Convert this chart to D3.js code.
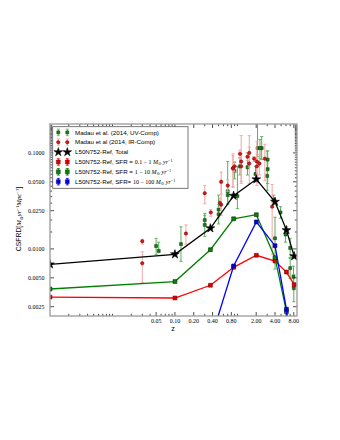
<!DOCTYPE html>
<html><head><meta charset="utf-8">
<script src="https://cdn.jsdelivr.net/npm/d3@7"></script>
<style>body{margin:0;background:#fff} svg{display:block}</style>
</head><body>
<svg id="c" width="340" height="440"></svg>
<script>
// ---- model (L50N752-Ref) ----
const zModel = [0.001, 0.1, 0.37, 0.87, 2.01, 4.0, 6.1, 8.1];
const sfrdTotal = [0.00691, 0.00879, 0.0164, 0.0358, 0.0531, 0.0310, 0.0157, 0.0084];
const sfrd01to1 = [0.00315, 0.00308, 0.00418, 0.00643, 0.00858, 0.00748, 0.00574, 0.00424];
const sfrd1to10 = [0.00382, 0.00457, 0.00981, 0.0206, 0.0227, 0.0081, 0.00222, 0.0008];
const sfrd10to100 = [null, null, 0.0011, 0.00664, 0.0191, 0.0108, 0.00235, 0.0002];

// ---- Madau & Dickinson (2014) compilation, log10 CSFRD and dex errors ----
const uvZ   = [0.055, 0.3, 0.5, 0.7, 1.0, 0.05, 0.125, 0.3, 0.5, 0.7, 0.9, 1.1, 1.45, 2.1, 3.0, 4.0, 1.95, 2.45, 3.05, 2.3, 3.05, 3.8, 4.9, 5.9, 7.0, 7.9, 7.0, 8.0];
const uvLog = [-2.02, -1.70, -1.59, -1.40, -1.45, -1.97, -1.95, -1.75, -1.64, -1.44, -1.19, -1.14, -1.15, -0.95, -1.24, -1.89, -1.22, -0.95, -1.07, -0.95, -1.17, -1.49, -1.62, -1.85, -1.99, -2.29, -2.20, -2.41];
const uvUp  = [0.09, 0.05, 0.15, 0.31, 0.31, 0.08, 0.18, 0.12, 0.10, 0.10, 0.09, 0.09, 0.15, 0.49, 0.26, 0.22, 0.08, 0.12, 0.09, 0.09, 0.11, 0.05, 0.06, 0.08, 0.10, 0.11, 0.10, 0.14];
const uvDn  = [0.02, 0.05, 0.08, 0.13, 0.13, 0.09, 0.18, 0.12, 0.10, 0.10, 0.08, 0.09, 0.08, 0.09, 0.15, 0.32, 0.08, 0.12, 0.09, 0.11, 0.15, 0.05, 0.06, 0.08, 0.10, 0.11, 0.11, 0.14];

const irZ   = [0.03, 0.03, 0.55, 0.85, 1.15, 1.55, 2.05, 0.3, 0.55, 0.85, 1.15, 1.55, 2.05, 0.15, 0.375, 0.525, 0.7, 0.9, 1.1, 1.45, 1.85, 2.25, 2.75, 3.6];
const irLog = [-1.92, -2.15, -1.54, -1.16, -1.09, -1.11, -1.09, -1.42, -1.30, -1.16, -1.14, -1.00, -1.14, -1.84, -1.62, -1.52, -1.34, -1.14, -1.01, -1.04, -1.06, -1.11, -1.06, -1.56];
const irUp  = [0.02, 0.12, 0.22, 0.15, 0.27, 0.17, 0.21, 0.08, 0.10, 0.13, 0.13, 0.18, 0.13, 0.09, 0.03, 0.05, 0.06, 0.05, 0.04, 0.04, 0.02, 0.09, 0.15, 0.23];
const irDn  = [0.03, 0.20, 0.11, 0.19, 0.21, 0.21, 0.25, 0.11, 0.13, 0.20, 0.18, 0.15, 0.10, 0.11, 0.04, 0.05, 0.06, 0.06, 0.05, 0.04, 0.03, 0.12, 0.23, 0.50];

// ---- ticks ----
const xTicks = [0.05, 0.1, 0.2, 0.4, 0.8, 2, 4, 8];
const xTickLabels = ["0.05", "0.10", "0.20", "0.40", "0.80", "2.00", "4.00", "8.00"];
const yTicks = [0.0025, 0.005, 0.01, 0.025, 0.05, 0.1];
const yTickLabels = ["0.0025", "0.0050", "0.0100", "0.0250", "0.0500", "0.1000"];

const legendLabels = [
  {t: "Madau et al. (2014, UV-Comp)"},
  {t: "Madau et al (2014, IR-Comp)"},
  {t: "L50N752-Ref, Total"},
  {t: "L50N752-Ref, SFR = ", m: "0.1 \u2212 1 "},
  {t: "L50N752-Ref, SFR = ", m: "1 \u2212 10 "},
  {t: "L50N752-Ref, SFR= ", m: "10 \u2212 100 "}
];

const svg = d3.select('#c');
const L = 50, R = 297, T = 124, B = 316;
const x = d3.scaleLog().domain([0.001, 9]).range([L, R]);
const y = d3.scaleLog().domain([0.002, 0.2]).range([B, T]);

svg.append('defs').append('clipPath').attr('id', 'clip')
  .append('rect').attr('x', L).attr('y', T).attr('width', R - L).attr('height', B - T);

const plot = svg.append('g').attr('clip-path', 'url(#clip)');

const sans = "'Liberation Sans', Arial, sans-serif";
const serif = "'Liberation Serif', 'DejaVu Serif', serif";

// observational data
function drawObs(zs, lg, up, dn, errCol, fill, edge, shape) {
  const g = plot.append('g');
  zs.forEach((z, i) => {
    const xc = x(z);
    const y0 = y(Math.pow(10, lg[i] + up[i]));
    const y1 = y(Math.pow(10, lg[i] - dn[i]));
    g.append('line').attr('x1', xc).attr('x2', xc).attr('y1', y0).attr('y2', y1)
      .attr('stroke', errCol).attr('stroke-width', 1);
    [y0, y1].forEach(yy => g.append('line').attr('x1', xc - 1.6).attr('x2', xc + 1.6)
      .attr('y1', yy).attr('y2', yy).attr('stroke', errCol).attr('stroke-width', 0.9));
  });
  zs.forEach((z, i) => {
    g.append('path').attr('d', d3.symbol().type(shape).size(9)())
      .attr('transform', `translate(${x(z)},${y(Math.pow(10, lg[i]))})`)
      .attr('fill', fill).attr('stroke', edge).attr('stroke-width', 0.5);
  });
}
drawObs(uvZ, uvLog, uvUp, uvDn, '#5cae5c', '#1b7a1b', '#0b3d0b', d3.symbolSquare);
drawObs(irZ, irLog, irUp, irDn, '#f4a3a3', '#d01818', '#7a0000', d3.symbolCircle);

// model lines
function drawModel(vals, col, shape, fill, edge, size) {
  const pts = zModel.map((z, i) => [z, vals[i]]).filter(d => d[1] != null);
  const line = d3.line().x(d => x(d[0])).y(d => y(d[1]));
  plot.append('path').attr('d', line(pts)).attr('fill', 'none')
    .attr('stroke', col).attr('stroke-width', 1.3);
  pts.forEach(d => plot.append('path').attr('d', d3.symbol().type(shape).size(size)())
    .attr('transform', `translate(${x(d[0])},${y(d[1])})`)
    .attr('fill', fill).attr('stroke', edge).attr('stroke-width', 0.6));
}
drawModel(sfrdTotal, '#000', d3.symbolStar, '#000', '#000', 24);
drawModel(sfrd01to1, '#ff0000', d3.symbolSquare, '#e00000', '#7a0000', 15);
drawModel(sfrd1to10, '#008000', d3.symbolSquare, '#0a800a', '#003300', 15);
drawModel(sfrd10to100, '#0000ff', d3.symbolSquare, '#0000e0', '#000060', 15);

// axes frame & ticks
const ax = svg.append('g');
const tickCol = '#222';
function ticksX(vals, len) {
  vals.forEach(v => {
    const xx = x(v);
    ax.append('line').attr('x1', xx).attr('x2', xx).attr('y1', B).attr('y2', B - len).attr('stroke', tickCol).attr('stroke-width', 0.8);
    ax.append('line').attr('x1', xx).attr('x2', xx).attr('y1', T).attr('y2', T + len).attr('stroke', tickCol).attr('stroke-width', 0.8);
  });
}
function ticksY(vals, len) {
  vals.forEach(v => {
    const yy = y(v);
    ax.append('line').attr('x1', L).attr('x2', L + len).attr('y1', yy).attr('y2', yy).attr('stroke', tickCol).attr('stroke-width', 0.8);
    ax.append('line').attr('x1', R).attr('x2', R - len).attr('y1', yy).attr('y2', yy).attr('stroke', tickCol).attr('stroke-width', 0.8);
  });
}
const minorX = x.ticks(40).filter(v => v > 0.001 && v < 9 && xTicks.indexOf(v) < 0);
const minorY = y.ticks(40).filter(v => v > 0.002 && v < 0.2 && yTicks.indexOf(v) < 0);
ticksX(minorX, 2.2);
ticksY(minorY, 2.2);
ticksX(xTicks, 4);
ticksY(yTicks, 4);

ax.append('rect').attr('x', L).attr('y', T).attr('width', R - L).attr('height', B - T)
  .attr('fill', 'none').attr('stroke', '#9a9a9a').attr('stroke-width', 1.3);

xTicks.forEach((v, i) => ax.append('text').attr('x', x(v)).attr('y', B + 7)
  .attr('text-anchor', 'middle').attr('font-family', serif).attr('font-size', 6)
  .text(xTickLabels[i]));
yTicks.forEach((v, i) => ax.append('text').attr('x', L - 5.5).attr('y', y(v) + 2)
  .attr('text-anchor', 'end').attr('font-family', serif).attr('font-size', 6)
  .text(yTickLabels[i]));

// axis labels
svg.append('text').attr('x', 173).attr('y', 331).attr('text-anchor', 'middle')
  .attr('font-family', sans).attr('font-size', 7.2).text('z');

const yl = svg.append('text').attr('transform', 'translate(21,219) rotate(-90)')
  .attr('text-anchor', 'middle').attr('font-family', sans).attr('font-size', 6.8);
yl.append('tspan').text('CSFRD[');
yl.append('tspan').attr('font-family', serif).attr('font-style', 'italic').text('M');
yl.append('tspan').attr('font-family', serif).attr('font-size', 4.6).attr('dy', 1.5).text('\u2299');
yl.append('tspan').attr('font-family', serif).attr('font-style', 'italic').attr('dy', -1.5).text('yr');
yl.append('tspan').attr('font-family', serif).attr('font-size', 4.6).attr('dy', -2.5).text('\u22121');
yl.append('tspan').attr('font-family', serif).attr('font-style', 'italic').attr('dy', 2.5).text('Mpc');
yl.append('tspan').attr('font-family', serif).attr('font-size', 4.6).attr('dy', -2.5).text('\u22123');
yl.append('tspan').attr('dy', 2.5).text(']');

// legend
const lg = svg.append('g');
lg.append('rect').attr('x', 52.7).attr('y', 126.7).attr('width', 135.3).attr('height', 61.6)
  .attr('fill', '#fff').attr('stroke', '#555').attr('stroke-width', 0.8);
const rowY = i => 132.4 + i * 9.85;
const legendMarks = [
  {shape: d3.symbolSquare, fill: '#1b7a1b', edge: '#0b3d0b', err: '#5cae5c', size: 9},
  {shape: d3.symbolCircle, fill: '#d01818', edge: '#7a0000', err: '#f4a3a3', size: 9},
  {shape: d3.symbolStar, fill: '#000', edge: '#000', err: null, size: 24},
  {shape: d3.symbolSquare, fill: '#e00000', edge: '#7a0000', err: '#ff0000', size: 15},
  {shape: d3.symbolSquare, fill: '#0a800a', edge: '#003300', err: '#008000', size: 15},
  {shape: d3.symbolSquare, fill: '#0000e0', edge: '#000060', err: '#0000ff', size: 15}
];
legendLabels.forEach((lab, i) => {
  const yy = rowY(i);
  const mk = legendMarks[i];
  [58.3, 67.3].forEach(xx => {
    if (mk.err) {
      lg.append('line').attr('x1', xx).attr('x2', xx).attr('y1', yy - 3.3).attr('y2', yy + 3.3).attr('stroke', mk.err).attr('stroke-width', 0.9);
      [yy - 3.3, yy + 3.3].forEach(e => lg.append('line').attr('x1', xx - 1.5).attr('x2', xx + 1.5).attr('y1', e).attr('y2', e).attr('stroke', mk.err).attr('stroke-width', 0.8));
    }
    lg.append('path').attr('d', d3.symbol().type(mk.shape).size(mk.size)())
      .attr('transform', `translate(${xx},${yy})`).attr('fill', mk.fill).attr('stroke', mk.edge).attr('stroke-width', 0.5);
  });
  const t = lg.append('text').attr('x', 75).attr('y', yy + 2.2).attr('font-family', sans).attr('font-size', 6.2);
  t.append('tspan').text(lab.t);
  if (lab.m) {
    t.append('tspan').attr('font-family', serif).attr('font-size', 6).text(lab.m);
    t.append('tspan').attr('font-family', serif).attr('font-style', 'italic').attr('font-size', 6).text('M');
    t.append('tspan').attr('font-family', serif).attr('font-size', 4.2).attr('dy', 1.3).text('\u2299');
    t.append('tspan').attr('font-family', serif).attr('font-style', 'italic').attr('font-size', 6).attr('dy', -1.3).text(' yr');
    t.append('tspan').attr('font-family', serif).attr('font-size', 4.2).attr('dy', -2.3).text('\u22121');
  }
});
</script>
</body></html>
